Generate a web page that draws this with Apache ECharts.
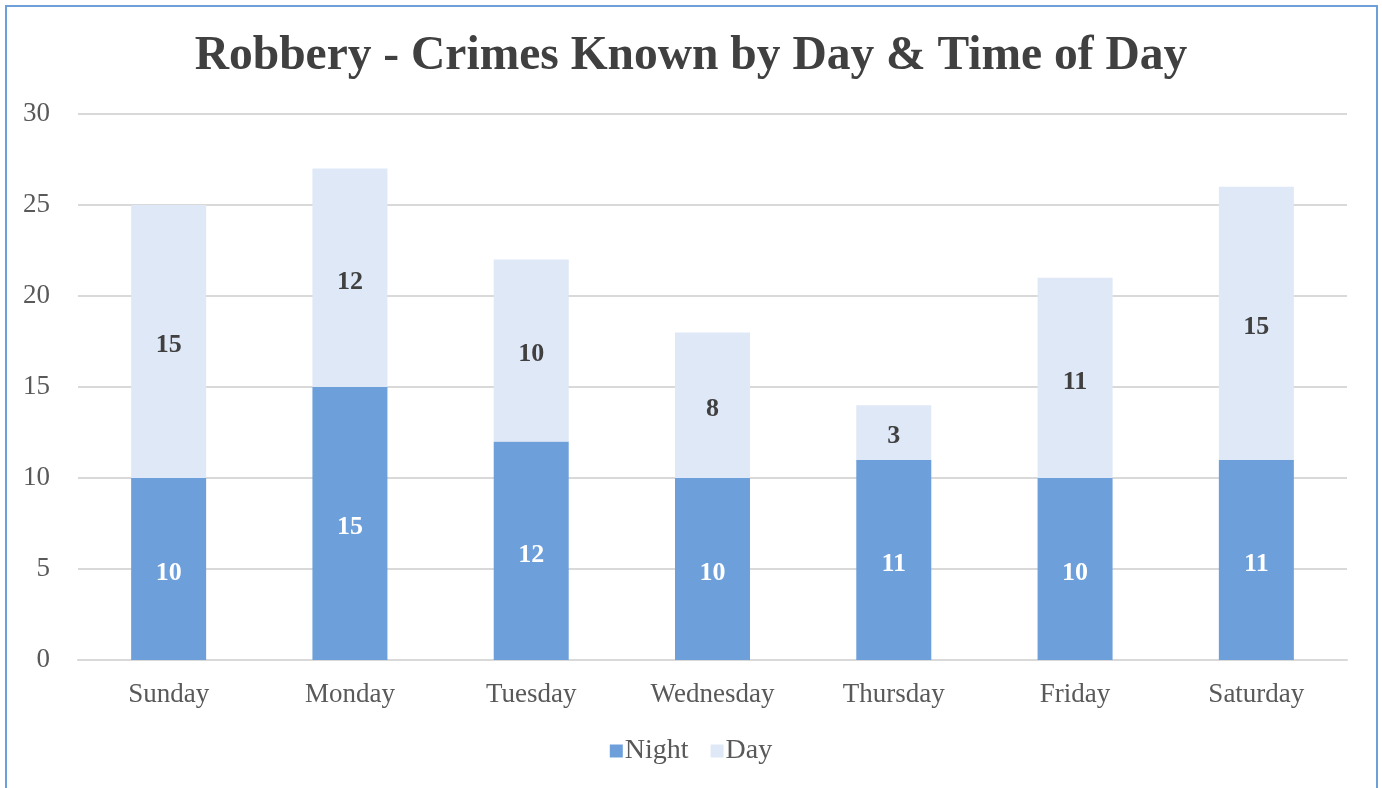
<!DOCTYPE html>
<html><head><meta charset="utf-8">
<script src="https://cdn.jsdelivr.net/npm/echarts@6/dist/echarts.min.js"></script>
<style>
html,body{margin:0;padding:0;background:#fff;}
#c{width:1382px;height:788px;}
#b{position:absolute;left:5px;top:5px;width:1373px;height:800px;border:2px solid #6f9fd8;box-sizing:border-box;pointer-events:none;}
</style></head>
<body><div id="c"></div><div id="b"></div>
<script>
const days = ['Sunday','Monday','Tuesday','Wednesday','Thursday','Friday','Saturday'];
const night = [10,15,12,10,11,10,11];
const day = [15,12,10,8,3,11,15];
const titleText = 'Robbery - Crimes Known by Day & Time of Day';
const ff = '"Liberation Serif","DejaVu Serif",serif';
const chart = echarts.init(document.getElementById('c'));
chart.setOption({
  animation:false,
  title:{text:titleText,left:'center',top:28,textStyle:{fontFamily:ff,fontSize:47.5,fontWeight:'bold',color:'#404040'}},
  grid:{left:78,right:35,top:114,bottom:128},
  legend:{bottom:18,left:'center',itemWidth:13,itemHeight:13,itemGap:22,icon:'rect',
    textStyle:{fontFamily:ff,fontSize:28,color:'#595959',padding:[0,0,0,-3]},data:['Night','Day']},
  xAxis:{type:'category',data:days,axisTick:{show:false},axisLine:{lineStyle:{color:'#d9d9d9',width:2}},
    axisLabel:{fontFamily:ff,fontSize:27,color:'#595959',margin:21}},
  yAxis:{type:'value',min:0,max:30,interval:5,axisLine:{show:false},axisTick:{show:false},
    splitLine:{lineStyle:{color:'#d9d9d9',width:2}},
    axisLabel:{fontFamily:ff,fontSize:27,color:'#595959',margin:28,align:'right'}},
  series:[
    {name:'Night',type:'bar',stack:'s',data:night,barWidth:75,itemStyle:{color:'#6d9fdb'},
     label:{show:true,position:'inside',offset:[0,4],fontFamily:ff,fontSize:26,fontWeight:'bold',color:'#ffffff'}},
    {name:'Day',type:'bar',stack:'s',data:day,barWidth:75,itemStyle:{color:'#dfe8f7'},
     label:{show:true,position:'inside',offset:[0,4],fontFamily:ff,fontSize:26,fontWeight:'bold',color:'#404040'}}
  ]
});
</script></body></html>
